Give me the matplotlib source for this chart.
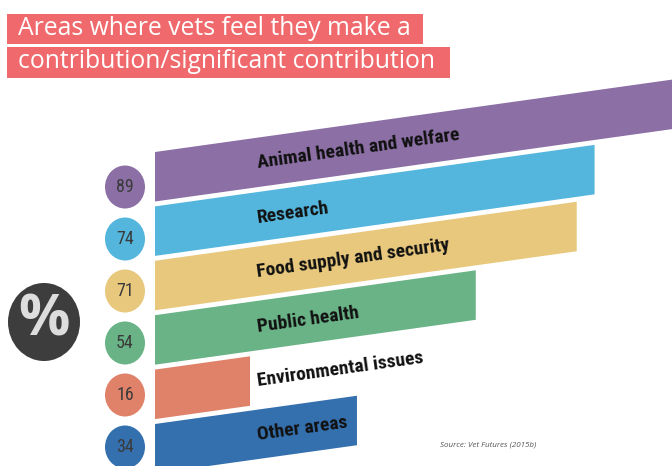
import numpy as np
import matplotlib
matplotlib.use('Agg')
from matplotlib import pyplot as plt
from matplotlib import font_manager as fm
from matplotlib.patches import Polygon, Ellipse, Rectangle

# data
areas = ['Animal health and welfare', 'Research', 'Food supply and security',
         'Public health', 'Environmental issues', 'Other areas']
values = [89, 74, 71, 54, 16, 34]
colours = ['#8B6FA5', '#54B6DD', '#E8C87D', '#69B386', '#E0826A', '#3570AE']
title_lines = ['Areas where vets feel they make a',
               'contribution/significant contribution']
source = 'Source: Vet Futures (2015b)'

W, H = 672, 466
PX = 5.94        # pixels per percentage point
X0 = 155         # pixel where bars start
SLOPE = 0.14     # rise of the bar edges per pixel
BAR_H = 49.5

installed = {f.name for f in fm.fontManager.ttflist}
cond = 'DejaVu Sans'
for name in ['Liberation Sans Narrow', 'Roboto Condensed', 'Open Sans Condensed']:
    if name in installed:
        cond = name
        break
title_font = 'Open Sans' if 'Open Sans' in installed else 'DejaVu Sans'


def plot():
    fig = plt.figure(figsize=(W / 100, H / 100), dpi=100, facecolor='w')
    ax = fig.add_axes([0, 0, 1, 1])
    ax.set_xlim(-X0 / PX, (W - X0) / PX)
    ax.set_ylim(H, 0)
    ax.axis('off')

    k = SLOPE * PX
    tops = 152 + 54.4 * np.arange(len(values))
    centres = 187 + 52 * np.arange(len(values))
    label_x = (257 - X0) / PX
    angle = np.degrees(np.arctan(SLOPE))

    for i, (name, v, c) in enumerate(zip(areas, values, colours)):
        t = tops[i]
        ax.add_patch(Polygon([(0, t), (v, t - k * v), (v, t - k * v + BAR_H), (0, t + BAR_H)],
                             closed=True, facecolor=c, edgecolor='none'))
        ax.text(label_x, t - k * label_x + BAR_H / 2 + 1, name, rotation=angle,
                rotation_mode='anchor', ha='left', va='center', color='#111111',
                fontsize=14, fontweight='bold', family=cond, fontstretch='condensed')
        ax.add_patch(Ellipse((-30 / PX, centres[i]), 40 / PX, 43, facecolor=c, edgecolor='none'))
        ax.text(-30 / PX, centres[i], str(v), ha='center', va='center', color='#3A3A3A',
                fontsize=13, family=cond, fontstretch='condensed')

    # percent badge
    ax.add_patch(Ellipse(((44 - X0) / PX, 322), 72 / PX, 78, facecolor='#3D3D3D', edgecolor='none'))
    ax.text((44 - X0) / PX, 320, '%', ha='center', va='center', color='#DDDDDD',
            fontsize=41, fontweight='bold', family=title_font)

    # title boxes
    for (x0, x1, y0, y1), line in zip([(7, 423, 14, 44), (7, 450, 47, 78)], title_lines):
        fig.patches.append(Rectangle((x0 / W, 1 - y1 / H), (x1 - x0) / W, (y1 - y0) / H,
                                     transform=fig.transFigure, facecolor='#F06A6D',
                                     edgecolor='none', zorder=0))
        fig.text(18 / W, 1 - (y0 + y1 - 1) / 2 / H, line, ha='left', va='center',
                 color='white', fontsize=17.8, family=title_font)

    fig.text(440 / W, 1 - 445 / H, source, ha='left', va='center', color='#555555',
             fontsize=5.8, style='italic', family=title_font)

    fig.savefig('out.png', dpi=100, facecolor='w')


if __name__ == '__main__':
    plot()
